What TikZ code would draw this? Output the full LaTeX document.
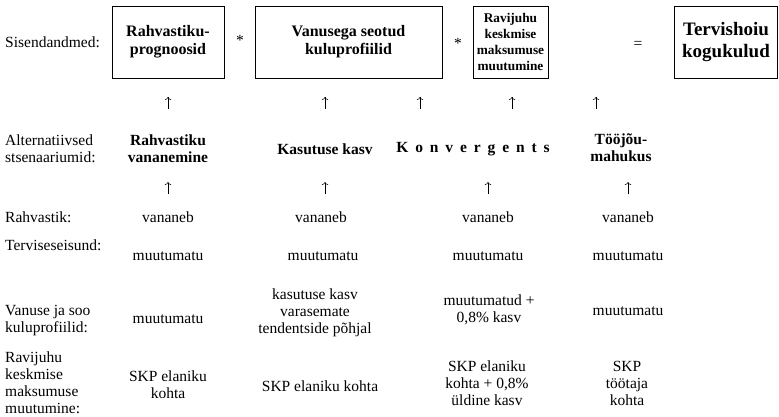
\documentclass[tikz,border=0pt]{standalone}
\usepackage{fontspec}
\setmainfont{Liberation Serif}
\usetikzlibrary{arrows.meta}
\begin{document}
\begin{tikzpicture}[x=1pt,y=-1pt,
    every node/.style={font=\fontsize{15.5}{17}\selectfont, inner sep=0pt, align=center},
    inbox/.style={draw, line width=0.8pt, minimum height=72pt,
        font=\fontsize{16}{18}\selectfont\bfseries},
    rowlabel/.style={anchor=west, align=left},
    scen/.style={font=\fontsize{15.5}{17}\selectfont\bfseries},
    up/.style={-{To[length=3pt,width=6.5pt]}, line width=0.5pt}]
    \useasboundingbox (0,0) rectangle (779,417);
    % input data
    \node[rowlabel](inlbl) at (5,42) {Sisendandmed:};
    \node[inbox, minimum width=112pt](pop) at (168,42) {Rahvastiku-\\prognoosid};
    \node(m1) at (240,40) {*};
    \node[inbox, minimum width=187pt](prof) at (348.5,42) {Vanusega seotud\\kuluprofiilid};
    \node(m2) at (458,43) {*};
    \node[inbox, minimum width=75pt, font=\fontsize{13.3}{15.8}\selectfont\bfseries](cost) at (510.5,42)
        {Ravijuhu\\keskmise\\maksumuse\\muutumine};
    \node(eq) at (638,45) {=};
    \node[inbox, minimum width=103pt, font=\fontsize{19}{22}\selectfont\bfseries](tot) at (726,42)
        {Tervishoiu\\kogukulud};
    \foreach \x [count=\i] in {168,325,420,512,596}{
        \coordinate (ta\i) at (\x,97);
        \coordinate (ba\i) at (\x,109);
        \draw[up] (ba\i) -- (ta\i);
    }
    % scenarios
    \node[rowlabel](sclbl) at (5,148.5) {Alternatiivsed\\stsenaariumid:};
    \node[scen](s1) at (168,148.5) {Rahvastiku\\vananemine};
    \node[scen](s2) at (325,149) {Kasutuse kasv};
    \node[scen](s3) at (473,149) {\spaceskip=0.445em K o n v e r g e n t s};
    \node[scen](s4) at (621,148) {Tööjõu-\\mahukus};
    \foreach \x [count=\i] in {168,325,488,628}{
        \coordinate (tb\i) at (\x,182);
        \coordinate (bb\i) at (\x,194);
        \draw[up] (bb\i) -- (tb\i);
    }
    % assumptions
    \node[rowlabel](r1) at (5,217) {Rahvastik:};
    \node(v11) at (168,217) {vananeb};
    \node(v12) at (321,217) {vananeb};
    \node(v13) at (488,217) {vananeb};
    \node(v14) at (628,217) {vananeb};
    \node[rowlabel](r2) at (5,245) {Terviseseisund:};
    \node(v21) at (168,256) {muutumatu};
    \node(v22) at (323,256) {muutumatu};
    \node(v23) at (488,256) {muutumatu};
    \node(v24) at (628,256) {muutumatu};
    \node[rowlabel](r3) at (5,321) {Vanuse ja soo\\kuluprofiilid:};
    \node(v31) at (168,319) {muutumatu};
    \node(v32) at (315,313) {kasutuse kasv\\varasemate\\tendentside põhjal};
    \node(v33) at (489,310) {muutumatud +\\0,8\% kasv};
    \node(v34) at (628,311) {muutumatu};
    \node[rowlabel](r4) at (5,383) {Ravijuhu\\keskmise\\maksumuse\\muutumine:};
    \node(v41) at (168,385) {SKP elaniku\\kohta};
    \node(v42) at (320,386) {SKP elaniku kohta};
    \node(v43) at (487,383) {SKP elaniku\\kohta + 0,8\%\\üldine kasv};
    \node(v44) at (627,383) {SKP\\töötaja\\kohta};
\end{tikzpicture}
\end{document}
